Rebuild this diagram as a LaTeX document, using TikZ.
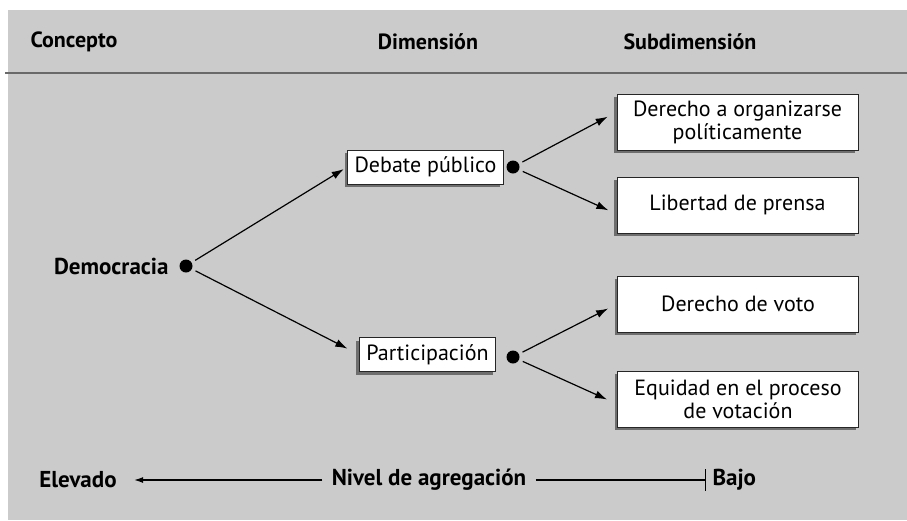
\documentclass[tikz,border=0pt]{standalone}
\usepackage{fontspec}
\setmainfont{PT Sans}
\usetikzlibrary{positioning,arrows.meta,shadows}

\definecolor{bggray}{RGB}{203,203,203}
\definecolor{rulegray}{RGB}{105,105,105}
\definecolor{shadegray}{RGB}{110,110,110}

\tikzset{
  box/.style={draw=black!85, fill=white, line width=0.9pt, align=center,
    font=\fontsize{22}{23}\selectfont,
    drop shadow={shadow xshift=-3pt, shadow yshift=-3pt, fill=shadegray, opacity=1}},
  subbox/.style={box, minimum width=241pt, minimum height=56pt, inner sep=0pt},
  dimbox/.style={box, minimum height=34pt, inner xsep=7pt, inner ysep=0pt},
  joint/.style={circle, fill=black, inner sep=0pt, minimum size=13pt},
  head/.style={font=\bfseries\fontsize{22}{24}\selectfont},
  scale label/.style={font=\bfseries\fontsize{23}{24}\selectfont},
  link/.style={-{Latex[length=12pt,width=8pt]}, line width=1.2pt}
}

\begin{document}
\begin{tikzpicture}[x=1pt, y=1pt]
  \fill[bggray] (8,-10) rectangle (907,-520);
  \useasboundingbox (0,0) rectangle (907,-520);
  \draw[rulegray, line width=2.5pt] (5,-73) -- (907,-73);

  % headers
  \node[head] (concepto) at (74,-42) {Concepto};
  \node[head] (dimension) at (428,-42) {Dimensión};
  \node[head] (subdim) at (690,-42) {Subdimensión};

  % concept
  \node[font=\bfseries\fontsize{23}{24}\selectfont, anchor=east] (democracia) at (172,-266) {Democracia};
  \node[joint] (demdot) at (186,-266) {};

  % dimensions
  \node[dimbox] (debate) at (425.5,-167) {Debate público};
  \node[joint] (debdot) at (513,-167) {};
  \node[dimbox] (particip) at (427.5,-354.5) {Participación};
  \node[joint] (pardot) at (513,-357) {};

  % subdimensions
  \node[subbox] (organizar) at (737.5,-122) {Derecho a organizarse\\políticamente};
  \node[subbox] (prensa) at (737.5,-205) {Libertad de prensa};
  \node[subbox] (voto) at (738,-304) {Derecho de voto};
  \node[subbox] (equidad) at (738,-399) {Equidad en el proceso\\de votación};

  \draw[link, shorten <=4pt, shorten >=4pt] (demdot) -- (debate.west);
  \draw[link, shorten <=4pt, shorten >=13pt] (demdot) -- (particip.west);
  \draw[link, shorten <=4pt, shorten >=10pt] (debdot) -- ([yshift=10pt]organizar.west);
  \draw[link, shorten <=4pt, shorten >=9pt] (debdot) -- ([yshift=-9pt]prensa.west);
  \draw[link, shorten <=4pt, shorten >=10pt] (pardot) -- (voto.west);
  \draw[link, shorten <=4pt, shorten >=11pt] (pardot) -- ([yshift=-5pt]equidad.west);

  % aggregation scale
  \node[scale label] (elevado) at (78,-480) {Elevado};
  \node[scale label] (nivel) at (429,-480) {Nivel de agregación};
  \node[scale label, anchor=west] (bajo) at (709,-480) {Bajo};
  \draw[-{Latex[length=9pt,width=6pt]}, line width=1.1pt, shorten <=6pt, shorten >=14pt] (nivel.west) -- (elevado.east);
  \draw[-{Bar[width=22pt]}, line width=1.1pt, shorten <=6pt, shorten >=3pt] (nivel.east) -- (bajo.west);
\end{tikzpicture}
\end{document}
